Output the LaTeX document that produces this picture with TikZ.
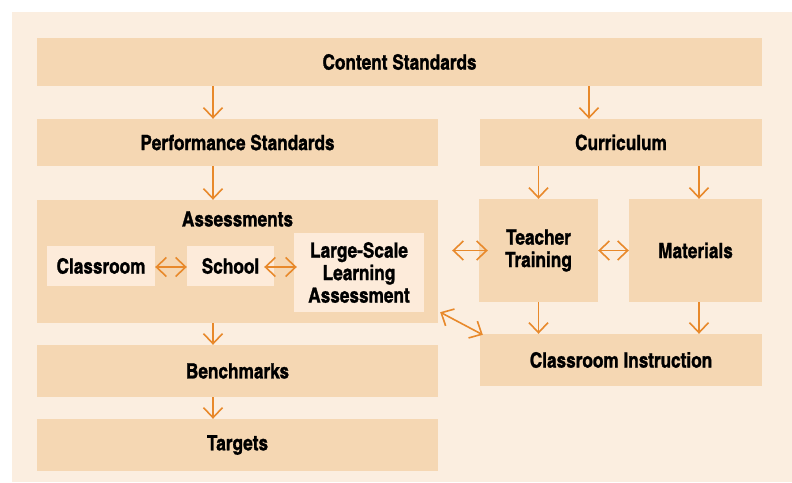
\documentclass[tikz,border=0pt]{standalone}
\usepackage{fontspec}
\setmainfont{TeX Gyre Heros Cn}[BoldFeatures={FakeBold=1.2}]
\usepackage{tikz}
\usetikzlibrary{arrows.meta, positioning, calc}
\definecolor{cPanel}{HTML}{FBEEE0}
\definecolor{cBox}{HTML}{F5D7B3}
\definecolor{cInner}{HTML}{FDEBDA}
\definecolor{cArrow}{HTML}{E8892B}

\begin{document}
\begin{tikzpicture}[
    x=1pt, y=-1pt,
    >={Straight Barb[length=10pt,width=19pt]},
    arrow/.style={->, draw=cArrow, line width=1.6pt},
    both/.style={<->, draw=cArrow, line width=1.6pt},
    box/.style={fill=cBox, inner sep=0pt, align=center,
                font=\fontsize{21}{22.5}\selectfont\bfseries},
    inner/.style={box, fill=cInner},
    lab/.style={font=\fontsize{21}{22.5}\selectfont\bfseries},
]

% ---------- Canvas ----------
\useasboundingbox (0,0) rectangle (792,482);
\fill[cPanel] (12,12) rectangle (792,482);

% ---------- Left column ----------
\node[box, minimum width=725, minimum height=48] (content) at (399.5,62) {Content Standards};
\node[box, minimum width=401, minimum height=47] (perf) at (237.5,142.5) {Performance Standards};
\node[box, minimum width=401, minimum height=123] (assess) at (237.5,261.5) {};
\node[lab] (assesslab) at (237.5,219) {Assessments};
\node[inner, minimum width=108, minimum height=40] (cls) at (101,266) {Classroom};
\node[inner, minimum width=87, minimum height=40] (school) at (230.5,266) {School};
\node[inner, minimum width=130, minimum height=79] (lsla) at (359,272.5) {Large-Scale\\Learning\\Assessment};
\node[box, minimum width=401, minimum height=52] (bench) at (237.5,371) {Benchmarks};
\node[box, minimum width=401, minimum height=52] (targets) at (237.5,445) {Targets};

% ---------- Right column ----------
\node[box, minimum width=282, minimum height=47] (curr) at (621,142.5) {Curriculum};
\node[box, minimum width=119, minimum height=103] (tt) at (538.5,250.5) {Teacher\\Training};
\node[box, minimum width=133, minimum height=103] (mat) at (695.5,250.5) {Materials};
\node[box, minimum width=282, minimum height=52] (ci) at (621,360) {Classroom Instruction};

% ---------- Arrow columns ----------
\coordinate (colA) at (213,0);
\coordinate (colB) at (589,0);
\coordinate (colD) at (699,0);

% ---------- Vertical arrows ----------
\draw[arrow] (content.south -| colA) -- (perf.north -| colA);
\draw[arrow] (content.south -| colB) -- (curr.north -| colB);
\draw[arrow] (perf.south -| colA) -- (assess.north -| colA);
\draw[arrow] (assess.south -| colA) -- (bench.north -| colA);
\draw[arrow] (bench.south -| colA) -- (targets.north -| colA);
\draw[arrow] (curr.south -| tt.north) -- (tt.north);
\draw[arrow] (curr.south -| colD) -- (mat.north -| colD);
\draw[arrow] (tt.south) -- (ci.north -| tt.south);
\draw[arrow] (mat.south -| colD) -- (ci.north -| colD);

% ---------- Two-way arrows ----------
\draw[both] (cls.east |- 0,267) -- (school.west |- 0,267);
\draw[both, shorten <=-10pt, shorten >=-3pt] (school.east |- 0,267) -- (lsla.west |- 0,267);
\draw[both, shorten <=14pt, shorten >=-9pt] (assess.east |- tt.west) -- (tt.west);
\draw[both] (tt.east) -- (mat.west);
\draw[both] ([xshift=2pt,yshift=11pt]assess.south east) -- ([xshift=3pt,yshift=-1pt]ci.north west);

\end{tikzpicture}
\end{document}
